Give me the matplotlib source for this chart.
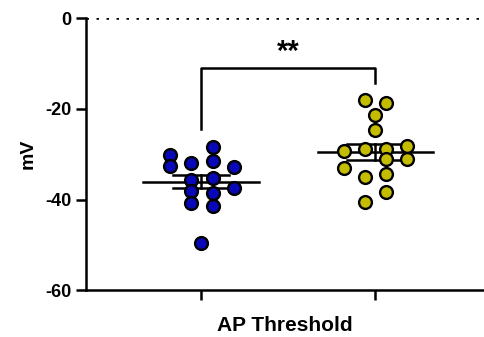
import numpy as np
import matplotlib
matplotlib.use("Agg")
import matplotlib.pyplot as plt

plt.rcParams["font.family"] = ["Liberation Sans", "DejaVu Sans"]
plt.rcParams["font.weight"] = "bold"

# group positions and per-point horizontal offsets (beeswarm spread)
groups = [1, 2]
blue_vals = [-30.2, -32.6, -32.0, -28.5, -31.5, -32.9, -35.7, -35.3, -37.5,
             -38.2, -38.6, -40.8, -41.5, -49.6]
blue_dx = [-0.18, -0.18, -0.06, 0.07, 0.07, 0.19, -0.06, 0.07, 0.19,
           -0.06, 0.07, -0.06, 0.07, 0.0]
yellow_vals = [-18.1, -18.7, -21.4, -24.7, -29.3, -28.9, -28.9, -28.2, -31.1,
               -31.1, -33.1, -35.1, -34.4, -38.4, -40.6]
yellow_dx = [-0.06, 0.06, 0.0, 0.0, -0.18, -0.06, 0.06, 0.18, 0.06,
             0.18, -0.18, -0.06, 0.06, 0.06, -0.06]
colors = ["#0808b8", "#c4bc00"]
yticks = [0, -20, -40, -60]
xlabel = "AP Threshold"
ylabel = "mV"
sig = "**"

fig = plt.figure(figsize=(4.85, 3.37), dpi=100)
ax = fig.add_axes([0.177, 0.139, 0.82, 0.807])

for x, vals, dx, c in zip(groups, [blue_vals, yellow_vals], [blue_dx, yellow_dx], colors):
    v = np.array(vals)
    m = v.mean()
    sem = v.std(ddof=1) / np.sqrt(len(v))
    ax.plot([x - 0.33, x + 0.33], [m, m], color="black", lw=1.8, zorder=2)
    for yy in (m - sem, m + sem):
        ax.plot([x - 0.16, x + 0.16], [yy, yy], color="black", lw=1.8, zorder=2)
    ax.plot([x, x], [m - sem, m + sem], color="black", lw=1.8, zorder=2)
    ax.scatter(np.array(dx) + x, v, s=85, color=c, edgecolor="black",
               linewidth=1.7, zorder=3)

# dotted zero line
ax.axhline(0, color="black", lw=1.8, ls=(0, (1, 3)), zorder=1)

# significance bracket
ax.plot([1, 1, 2, 2], [-24.5, -11.0, -11.0, -14.2], color="black", lw=1.8)
ax.text(1.5, -10.6, sig, ha="center", va="bottom", fontsize=21, fontweight="bold")

ax.set_xlim(0.34, 2.62)
ax.set_ylim(-60, 0)
ax.set_xticks(groups)
ax.set_xticklabels([])
ax.set_yticks(yticks)
ax.set_yticklabels([str(t) for t in yticks], fontsize=13, fontweight="bold")
ax.set_xlabel(xlabel, fontsize=15, fontweight="bold", labelpad=8)
ax.set_ylabel(ylabel, fontsize=14, fontweight="bold", labelpad=6)
for s in ("top", "right"):
    ax.spines[s].set_visible(False)
for s in ("left", "bottom"):
    ax.spines[s].set_linewidth(1.8)
ax.spines["left"].set_bounds(-60, 0)
ax.tick_params(width=1.8, length=7)

fig.savefig("out.png", dpi=100)
